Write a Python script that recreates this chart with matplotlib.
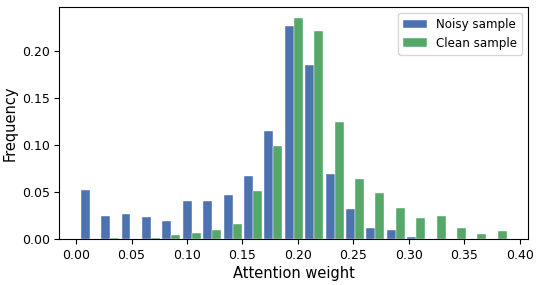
import numpy as np
import matplotlib
matplotlib.use("Agg")
import matplotlib.pyplot as plt

# Histogram bins (attention weight)
bin_lo = 0.003
bin_hi = 0.3895
n_bins = 21

noisy_freq = [0.0524, 0.0245, 0.0266, 0.0234, 0.0195, 0.0407, 0.0407, 0.0474,
              0.0677, 0.1149, 0.2259, 0.1847, 0.0698, 0.0326, 0.0123, 0.0099,
              0.0024, 0.0, 0.0, 0.0, 0.0]
clean_freq = [0.0005, 0.001, 0.0005, 0.002, 0.0043, 0.0067, 0.0102, 0.0163,
              0.0514, 0.0993, 0.2347, 0.2216, 0.1245, 0.0638, 0.0496, 0.0333,
              0.0223, 0.0248, 0.012, 0.0053, 0.0088]
labels = ["Noisy sample", "Clean sample"]
colors = ["#4C72B0", "#55A868"]

edges = np.linspace(bin_lo, bin_hi, n_bins + 1)
centers = (edges[:-1] + edges[1:]) / 2

fig = plt.figure(figsize=(5.4, 2.85), dpi=100)
ax = fig.add_axes([0.110, 0.160, 0.868, 0.815])
ax.hist([centers, centers], bins=edges, weights=[noisy_freq, clean_freq],
        color=colors, label=labels, edgecolor="white", linewidth=0.3,
        rwidth=0.88)
ax.set_xlabel("Attention weight", fontsize=10.5, labelpad=3)
ax.set_ylabel("Frequency", fontsize=10.5, labelpad=3)
ax.tick_params(labelsize=9)
ax.set_xticks([0.0, 0.05, 0.10, 0.15, 0.20, 0.25, 0.30, 0.35, 0.40])
ax.set_yticks([0.0, 0.05, 0.10, 0.15, 0.20])
ax.legend(loc="upper right", fontsize=8.6)
fig.savefig("out.png", dpi=100)
